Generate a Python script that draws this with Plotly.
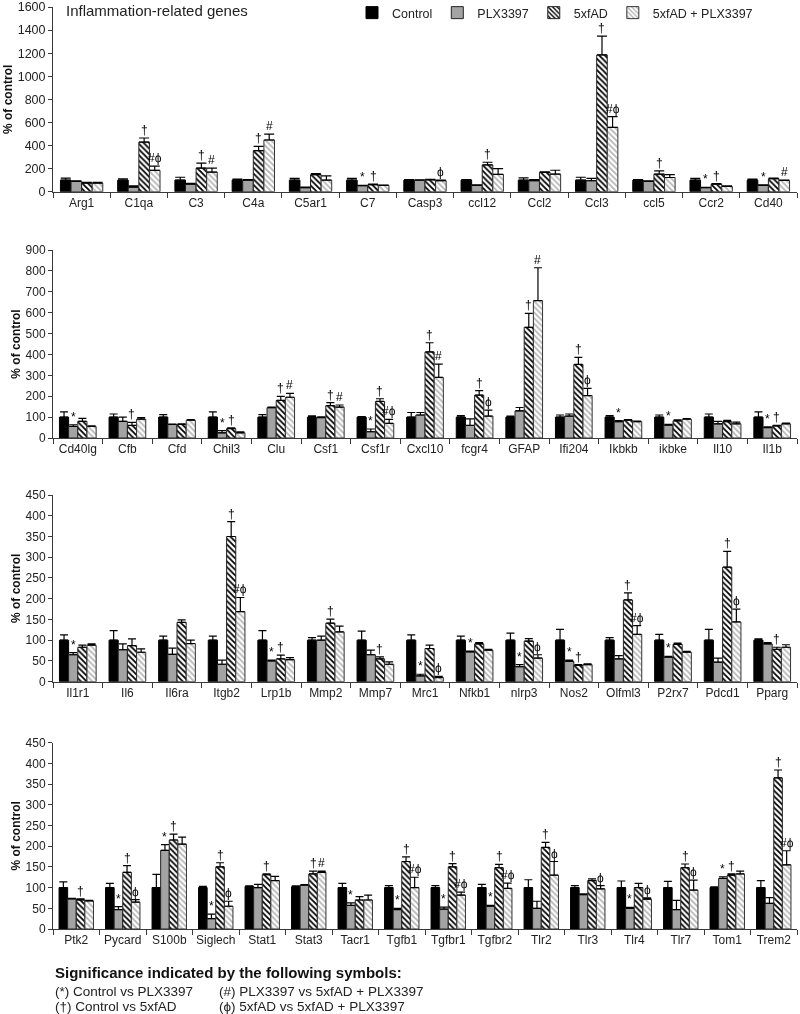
import plotly.graph_objects as go

# ---------------- DATA ----------------
series_names = ["Control", "PLX3397", "5xfAD", "5xfAD + PLX3397"]

genes1 = ["Arg1", "C1qa", "C3", "C4a", "C5ar1", "C7", "Casp3", "ccl12", "Ccl2", "Ccl3", "ccl5", "Ccr2", "Cd40"]
ctrl1 = [100, 100, 100, 100, 100, 100, 100, 100, 100, 100, 100, 100, 100]
ctrl1_err = [18, 12, 25, 10, 15, 15, 5, 5, 20, 25, 5, 15, 10]
plx1 = [90, 40, 65, 100, 35, 52, 100, 55, 95, 95, 90, 35, 55]
plx1_err = [5, 10, 8, 5, 5, 4, 3, 5, 10, 20, 5, 3, 5]
ad1 = [75, 430, 205, 355, 147, 60, 103, 232, 168, 1185, 152, 65, 112]
ad1_err = [5, 35, 43, 37, 10, 5, 5, 23, 5, 163, 28, 5, 5]
combo1 = [75, 185, 170, 448, 100, 55, 95, 150, 152, 557, 123, 45, 98]
combo1_err = [5, 37, 35, 50, 37, 3, 5, 50, 34, 94, 25, 5, 3]
sym_plx1 = ["", "", "", "", "", "*", "", "", "", "", "", "*", "*"]
sym_ad1 = ["", "†", "†", "†", "", "†", "", "†", "", "†", "†", "†", ""]
sym_combo1 = ["", "#ϕ", "#", "#", "", "", "ϕ", "", "", "#ϕ", "", "", "#"]

genes2 = ["Cd40lg", "Cfb", "Cfd", "Chil3", "Clu", "Csf1", "Csf1r", "Cxcl10", "fcgr4", "GFAP", "Ifi204", "Ikbkb", "ikbke", "Il10", "Il1b"]
ctrl2 = [100, 100, 100, 100, 100, 100, 100, 100, 100, 100, 100, 100, 100, 100, 100]
ctrl2_err = [25, 15, 12, 25, 12, 6, 3, 22, 7, 5, 10, 7, 10, 15, 25]
plx2 = [55, 80, 65, 25, 145, 98, 30, 110, 60, 130, 105, 78, 62, 68, 50]
plx2_err = [8, 20, 2, 10, 3, 3, 13, 12, 32, 16, 10, 5, 3, 12, 3]
ad2 = [80, 60, 65, 45, 180, 155, 175, 412, 205, 530, 352, 85, 82, 78, 58]
ad2_err = [14, 15, 3, 3, 19, 14, 13, 44, 22, 67, 34, 3, 5, 6, 3]
combo2 = [55, 90, 85, 25, 195, 148, 70, 290, 105, 658, 203, 78, 90, 68, 68]
combo2_err = [3, 8, 3, 5, 19, 10, 19, 64, 28, 157, 35, 3, 3, 8, 3]
sym_plx2 = ["*", "", "", "*", "", "", "*", "", "", "", "", "*", "*", "", "*"]
sym_ad2 = ["", "†", "", "†", "†", "†", "†", "†", "†", "†", "†", "", "", "", "†"]
sym_combo2 = ["", "", "", "", "#", "#", "#ϕ", "#", "ϕ", "#", "ϕ", "", "", "", ""]

genes3 = ["Il1r1", "Il6", "Il6ra", "Itgb2", "Lrp1b", "Mmp2", "Mmp7", "Mrc1", "Nfkb1", "nlrp3", "Nos2", "Olfml3", "P2rx7", "Pdcd1", "Pparg"]
ctrl3 = [100, 100, 100, 100, 100, 100, 100, 100, 100, 100, 100, 100, 100, 100, 100]
ctrl3_err = [13, 23, 10, 10, 23, 6, 22, 13, 10, 17, 26, 6, 14, 26, 3]
plx3 = [65, 77, 66, 42, 50, 100, 65, 14, 72, 36, 49, 55, 59, 47, 91]
plx3_err = [5, 14, 15, 10, 2, 10, 11, 4, 2, 5, 3, 8, 2, 10, 3]
ad3 = [83, 87, 143, 350, 55, 141, 55, 80, 91, 98, 39, 197, 90, 276, 78]
ad3_err = [5, 16, 6, 36, 9, 10, 5, 8, 3, 6, 2, 17, 3, 38, 5]
combo3 = [88, 71, 92, 169, 53, 120, 42, 10, 76, 57, 41, 114, 71, 144, 83]
combo3_err = [3, 8, 8, 34, 5, 14, 6, 3, 2, 8, 2, 21, 2, 31, 6]
sym_plx3 = ["*", "", "", "", "*", "", "", "*", "*", "*", "*", "", "*", "", ""]
sym_ad3 = ["", "", "", "†", "†", "†", "†", "", "", "", "†", "†", "", "†", "†"]
sym_combo3 = ["", "", "", "#ϕ", "", "", "", "ϕ", "", "ϕ", "", "#ϕ", "", "ϕ", ""]

genes4 = ["Ptk2", "Pycard", "S100b", "Siglech", "Stat1", "Stat3", "Tacr1", "Tgfb1", "Tgfbr1", "Tgfbr2", "Tlr2", "Tlr3", "Tlr4", "Tlr7", "Tom1", "Trem2"]
ctrl4 = [100, 100, 100, 100, 103, 102, 100, 100, 100, 100, 100, 100, 100, 100, 100, 100]
ctrl4_err = [14, 10, 32, 3, 1, 2, 10, 5, 5, 8, 19, 5, 16, 15, 2, 17]
plx4 = [73, 47, 190, 25, 100, 106, 57, 47, 48, 55, 50, 83, 50, 47, 122, 62]
plx4_err = [1, 7, 14, 11, 8, 1, 6, 3, 5, 2, 17, 2, 2, 22, 4, 14]
ad4 = [70, 137, 215, 150, 131, 133, 70, 163, 150, 148, 197, 117, 100, 148, 130, 365]
ad4_err = [3, 16, 14, 10, 2, 7, 8, 11, 8, 8, 12, 4, 10, 9, 3, 19]
combo4 = [68, 65, 205, 55, 117, 137, 70, 100, 82, 98, 130, 97, 72, 94, 133, 155]
combo4_err = [1, 6, 17, 12, 10, 3, 12, 25, 7, 13, 33, 8, 3, 24, 7, 34]
sym_plx4 = ["", "*", "*", "*", "", "", "*", "*", "*", "*", "", "", "*", "", "*", ""]
sym_ad4 = ["†", "†", "†", "†", "†", "†", "", "†", "†", "†", "†", "", "", "†", "†", "†"]
sym_combo4 = ["", "ϕ", "", "ϕ", "", "#", "", "#ϕ", "#ϕ", "#ϕ", "ϕ", "ϕ", "ϕ", "ϕ", "", "#ϕ"]

y_max = [1600, 900, 450, 450]
y_dtick = [200, 100, 50, 50]

title_text = "Inflammation-related genes"
sig_title = "Significance indicated by the following symbols:"
sig_lines = ["(*) Control vs PLX3397", "(#) PLX3397 vs 5xfAD + PLX3397",
             "(†) Control vs 5xfAD", "(ϕ) 5xfAD vs 5xfAD + PLX3397"]

# ---------------- STYLE / LAYOUT ----------------
W, H = 800, 1014
ML, MR = 53, 3
FONT = "Liberation Sans, Arial, sans-serif"
SYMFONT = "Liberation Sans, DejaVu Sans, sans-serif"
AXC = "#3a3a3a"
BARGAP = 0.26

# (zero px, top px) for each panel, from top of figure
panel_px = [(191.7, 7.0), (438.0, 250.0), (681.7, 495.0), (929.0, 742.7)]

panels = [
    dict(genes=genes1, vals=[ctrl1, plx1, ad1, combo1], errs=[ctrl1_err, plx1_err, ad1_err, combo1_err],
         syms=[None, sym_plx1, sym_ad1, sym_combo1]),
    dict(genes=genes2, vals=[ctrl2, plx2, ad2, combo2], errs=[ctrl2_err, plx2_err, ad2_err, combo2_err],
         syms=[None, sym_plx2, sym_ad2, sym_combo2]),
    dict(genes=genes3, vals=[ctrl3, plx3, ad3, combo3], errs=[ctrl3_err, plx3_err, ad3_err, combo3_err],
         syms=[None, sym_plx3, sym_ad3, sym_combo3]),
    dict(genes=genes4, vals=[ctrl4, plx4, ad4, combo4], errs=[ctrl4_err, plx4_err, ad4_err, combo4_err],
         syms=[None, sym_plx4, sym_ad4, sym_combo4]),
]

styles = [
    dict(color="black", line=dict(color="black", width=1)),
    dict(color="#a3a3a3", line=dict(color="#222222", width=1)),
    dict(color="white", line=dict(color="#222222", width=1),
         pattern=dict(shape="\\", fgcolor="black", bgcolor="white", size=4, solidity=0.45, fillmode="replace")),
    dict(color="white", line=dict(color="#333333", width=1),
         pattern=dict(shape="\\", fgcolor="#b5b5b5", bgcolor="white", size=4, solidity=0.45, fillmode="replace")),
]

fig = go.Figure()
annotations = []
group_w = 1 - BARGAP
bar_w = group_w / 4
offsets = [-group_w / 2 + (i + 0.5) * bar_w for i in range(4)]

for p, panel in enumerate(panels):
    k = p + 1
    xname = "x" if k == 1 else f"x{k}"
    yname = "y" if k == 1 else f"y{k}"
    n = len(panel["genes"])
    cap = 5 if k == 1 else 4
    for s in range(4):
        fig.add_trace(go.Bar(
            x=panel["genes"], y=panel["vals"][s], name=series_names[s],
            xaxis=xname, yaxis=yname, legendgroup=series_names[s], showlegend=(k == 1),
            marker=styles[s],
            error_y=dict(type="data", array=panel["errs"][s], arrayminus=[0] * n, symmetric=False,
                         color="black", thickness=1.2, width=cap),
        ))
        syms = panel["syms"][s]
        if syms is None:
            continue
        for i, t in enumerate(syms):
            if not t:
                continue
            annotations.append(dict(
                x=i + offsets[s], y=panel["vals"][s][i] + panel["errs"][s][i],
                xref=xname, yref=yname, text=t, showarrow=False,
                yanchor="bottom", xanchor="center", yshift=-1,
                font=dict(family=SYMFONT, size=12, color="black"),
            ))

def px_x(px):
    return (px - ML) / (W - ML - MR)

def px_y(py):
    return 1 - py / H

layout = dict(
    width=W, height=H, margin=dict(l=ML, r=MR, t=0, b=0, autoexpand=False),
    plot_bgcolor="white", paper_bgcolor="white",
    barmode="group", bargap=BARGAP, bargroupgap=0,
    font=dict(family=FONT, size=12, color="#222222"),
    showlegend=True,
    legend=dict(orientation="h", xref="paper", yref="paper", x=px_x(352), y=px_y(13),
                xanchor="left", yanchor="middle", font=dict(family=FONT, size=12.5, color="#222222"),
                bgcolor="rgba(0,0,0,0)", itemwidth=30, tracegroupgap=0),
)

for p in range(4):
    k = p + 1
    zero_px, top_px = panel_px[p]
    xkey = "xaxis" if k == 1 else f"xaxis{k}"
    ykey = "yaxis" if k == 1 else f"yaxis{k}"
    layout[xkey] = dict(
        domain=[0, 1], anchor="y" if k == 1 else f"y{k}", type="category",
        tickson="boundaries", ticks="outside", ticklen=5, tickcolor=AXC, tickangle=0,
        showline=True, linecolor=AXC, linewidth=1, showgrid=False,
        tickfont=dict(family=FONT, size=12, color="#222222"),
    )
    layout[ykey] = dict(
        domain=[1 - zero_px / H, 1 - top_px / H], anchor="x" if k == 1 else f"x{k}",
        range=[0, y_max[p]], dtick=y_dtick[p], tick0=0, ticklabeloverflow="allow",
        ticks="outside", ticklen=4, tickcolor=AXC, showline=True, linecolor=AXC, linewidth=1,
        showgrid=False, zeroline=False,
        tickfont=dict(family=FONT, size=12.5 if k == 1 else 12, color="#222222"),
        title=dict(text="<b>% of control</b>", font=dict(family=FONT, size=12, color="#111111"), standoff=2),
    )

annotations.append(dict(x=px_x(64), y=px_y(10), xref="paper", yref="paper", text=title_text,
                        showarrow=False, xanchor="left", yanchor="middle",
                        font=dict(family=FONT, size=15, color="#222222")))
annotations.append(dict(x=px_x(53), y=px_y(972), xref="paper", yref="paper", text="<b>" + sig_title + "</b>",
                        showarrow=False, xanchor="left", yanchor="middle",
                        font=dict(family=FONT, size=15, color="#111111")))
sig_pos = [(53, 991), (217, 991), (53, 1006), (217, 1006)]
for (sx, sy), t in zip(sig_pos, sig_lines):
    annotations.append(dict(x=px_x(sx), y=px_y(sy), xref="paper", yref="paper", text=t,
                            showarrow=False, xanchor="left", yanchor="middle",
                            font=dict(family=FONT, size=13.5, color="#222222")))

layout["annotations"] = annotations
fig.update_layout(**layout)

post = (
    "document.body.style.margin='0';"
    "document.body.style.overflow='hidden';"
    "document.querySelectorAll('.plotly-graph-div').forEach(function(e){e.style.transform='translateZ(0)';e.style.willChange='transform';});"
)
fig.write_html("out.html", post_script=post, config={"displayModeBar": False, "staticPlot": True})
